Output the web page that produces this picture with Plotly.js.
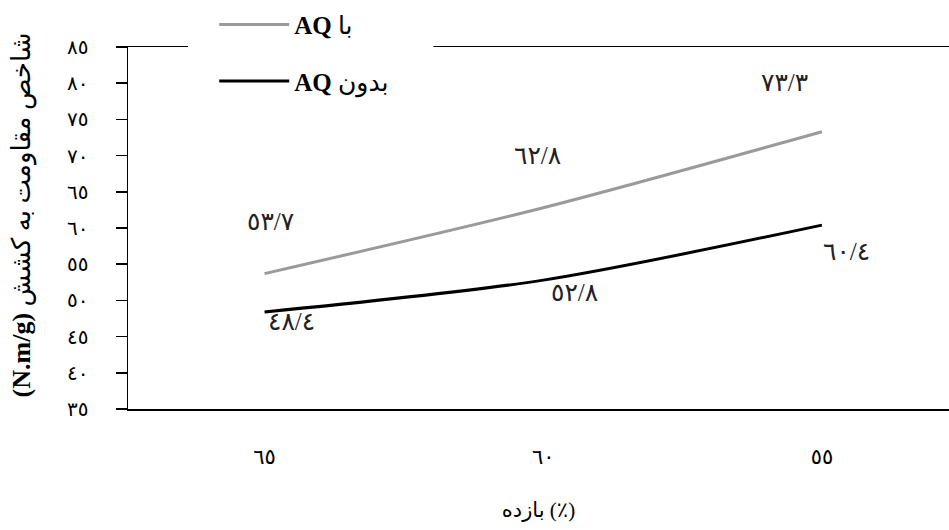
<!DOCTYPE html>
<html>
<head>
<meta charset="utf-8">
<script src="https://cdn.plot.ly/plotly-3.0.1.min.js"></script>
<style>html,body{margin:0;padding:0;background:#fff;}#chart{width:949px;height:530px;}</style>
</head>
<body>
<div id="chart"></div>
<script>
// ---- data ----
var categories = ['٦٥', '٦٠', '٥٥'];
var withAQ = [53.7, 62.8, 73.3];
var withoutAQ = [48.4, 52.8, 60.4];
var withAQLabels = ['٥٣/٧', '٦٢/٨', '٧٣/٣'];
var withoutAQLabels = ['٤٨/٤', '٥٢/٨', '٦٠/٤'];
var yTickVals = [35, 40, 45, 50, 55, 60, 65, 70, 75, 80, 85];
var yTickText = ['٣٥', '٤٠', '٤٥', '٥٠', '٥٥', '٦٠', '٦٥', '٧٠', '٧٥', '٨٠', '٨٥'];
var seriesNames = ['<b>AQ</b> با', '<b>AQ</b> بدون'];
var xTitle = 'بازده (٪)';
var yTitle = '<b>(N.m/g)</b> شاخص مقاومت به کشش';

// ---- styling ----
var FONT = 'Liberation Serif, DejaVu Sans, serif';
var grayShift = [[6, 52], [-6, 52], [-37, 49]];
var blackShift = [[27, -10], [31, -12], [25, -26]];

var traces = [
  {x: categories, y: withAQ, name: seriesNames[0], type: 'scatter', mode: 'lines',
   line: {color: '#9a9a9a', width: 3, shape: 'spline', smoothing: 0.8}, legendgroup: 'a', hoverinfo: 'none'},
  {x: categories, y: withoutAQ, name: seriesNames[1], type: 'scatter', mode: 'lines',
   line: {color: '#000000', width: 3, shape: 'spline', smoothing: 0.8}, legendgroup: 'b', hoverinfo: 'none'}
];

var annotations = [];
categories.forEach(function (c, i) {
  annotations.push({x: c, y: withAQ[i], text: withAQLabels[i], showarrow: false,
    xshift: grayShift[i][0], yshift: grayShift[i][1], font: {family: FONT, size: 25, color: '#222'}});
  annotations.push({x: c, y: withoutAQ[i], text: withoutAQLabels[i], showarrow: false,
    xshift: blackShift[i][0], yshift: blackShift[i][1], font: {family: FONT, size: 25, color: '#222'}});
});
// y-axis title (rotated)
annotations.push({xref: 'paper', yref: 'paper', x: -0.129, y: 0.535, xanchor: 'center', yanchor: 'middle',
  textangle: -90, showarrow: false, text: yTitle, font: {family: FONT, size: 26, color: '#000'}});

var layout = {
  width: 949, height: 530,
  margin: {l: 128, r: 0, t: 47, b: 121},
  paper_bgcolor: '#fff', plot_bgcolor: '#fff',
  font: {family: FONT, color: '#000'},
  showlegend: true,
  legend: {x: 0.105, xanchor: 'left', y: 1.125, yanchor: 'top', bgcolor: 'rgba(0,0,0,0)',
    font: {family: FONT, size: 25, color: '#000'}, tracegroupgap: 21, itemwidth: 70,
    traceorder: 'grouped'},
  shapes: [
    {type: 'rect', xref: 'paper', yref: 'paper', x0: 0.073, x1: 0.372, y0: 0.99, y1: 1.01,
     fillcolor: '#fff', line: {width: 0}, layer: 'above'}
  ],
  xaxis: {type: 'category', range: [-0.49, 2.456], showline: true, linecolor: '#000', linewidth: 1.5,
    mirror: true, ticks: '', showgrid: false, zeroline: false,
    ticklabelstandoff: 28, tickfont: {family: FONT, size: 21},
    title: {text: xTitle, font: {family: FONT, size: 21}, standoff: 34}},
  yaxis: {range: [35, 85], tickvals: yTickVals, ticktext: yTickText, showline: true, linecolor: '#000',
    linewidth: 1.5, ticks: 'outside', ticklen: 11, tickcolor: '#000', tickwidth: 1.5, showgrid: false,
    zeroline: false, ticklabelstandoff: 23, tickfont: {family: FONT, size: 20}},
  annotations: annotations
};

Plotly.newPlot('chart', traces, layout, {staticPlot: true});
</script>
</body>
</html>
